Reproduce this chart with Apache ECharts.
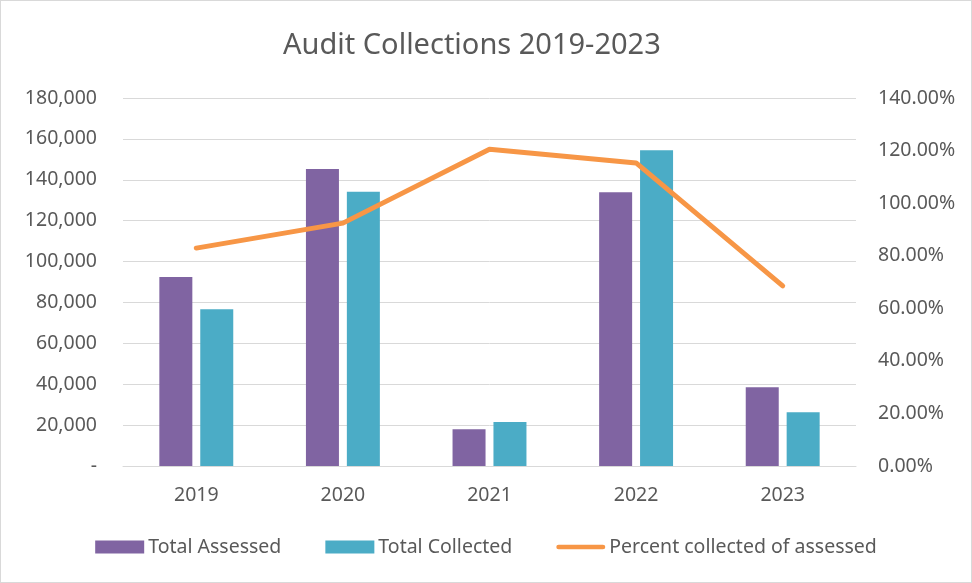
<!DOCTYPE html>
<html>
<head>
<meta charset="utf-8">
<script src="https://cdn.jsdelivr.net/npm/echarts@6/dist/echarts.min.js"></script>
<style>
  html, body { margin: 0; padding: 0; background: #fff; }
  #chart { width: 970px; height: 581px; border: 1px solid #d9d9d9; }
</style>
</head>
<body>
<div id="chart"></div>
<script>
  // 数据
  var years = ['2019', '2020', '2021', '2022', '2023'];
  var totalAssessed = [92500, 145300, 18000, 133900, 38500];
  var totalCollected = [76700, 134200, 21500, 154500, 26300];
  var percentCollected = [82.9, 92.4, 120.5, 115.3, 68.5];

  var font = "'Noto Sans', sans-serif";
  var textColor = '#595959';
  var gridColor = '#d9d9d9';
  // 图例中的粗线（圆头）
  var lineIcon = 'path://M2.5,0H50.5A2.5,2.5,0,0,1,50.5,5H2.5A2.5,2.5,0,0,1,2.5,0Z';

  var chart = echarts.init(document.getElementById('chart'));
  chart.setOption({
    animation: false,
    textStyle: { fontFamily: font },
    title: {
      text: 'Audit Collections 2019-2023',
      left: 277,
      top: 25,
      textStyle: { fontFamily: font, fontSize: 29, fontWeight: 'normal', color: textColor }
    },
    legend: {
      bottom: 20,
      left: 'center',
      itemWidth: 49,
      itemHeight: 13,
      itemGap: 44,
      textStyle: { fontFamily: font, fontSize: 19.5, color: textColor, padding: [0, 0, 0, -1] },
      data: [
        { name: 'Total Assessed', icon: 'rect' },
        { name: 'Total Collected', icon: 'rect' },
        { name: 'Percent collected of assessed', icon: lineIcon, itemStyle: { color: '#F79646' } }
      ]
    },
    grid: { left: 122, right: 115, top: 97, bottom: 116 },
    xAxis: {
      type: 'category',
      data: years,
      axisLine: { lineStyle: { color: gridColor, width: 1 } },
      axisTick: { show: false },
      axisLabel: { fontFamily: font, fontSize: 19.5, color: textColor, margin: 19 }
    },
    yAxis: [
      {
        type: 'value',
        min: 0,
        max: 180000,
        interval: 20000,
        axisLine: { show: false },
        axisTick: { show: false },
        splitLine: { lineStyle: { color: gridColor, width: 1 } },
        axisLabel: {
          fontFamily: font, fontSize: 19.5, color: textColor, margin: 26,
          formatter: function (v) { return v === 0 ? '-' : v.toLocaleString('en-US'); }
        }
      },
      {
        type: 'value',
        min: 0,
        max: 140,
        interval: 20,
        axisLine: { show: false },
        axisTick: { show: false },
        splitLine: { show: false },
        axisLabel: {
          fontFamily: font, fontSize: 19.5, color: textColor, margin: 22,
          formatter: function (v) { return v.toFixed(2) + '%'; }
        }
      }
    ],
    series: [
      {
        name: 'Total Assessed',
        type: 'bar',
        data: totalAssessed,
        barWidth: 33,
        barGap: '24%',
        itemStyle: { color: '#8064A2' }
      },
      {
        name: 'Total Collected',
        type: 'bar',
        data: totalCollected,
        barWidth: 33,
        itemStyle: { color: '#4BACC6' }
      },
      {
        name: 'Percent collected of assessed',
        type: 'line',
        yAxisIndex: 1,
        data: percentCollected,
        symbol: 'none',
        lineStyle: { color: '#F79646', width: 5, cap: 'round', join: 'round' },
        itemStyle: { color: '#F79646' }
      }
    ]
  });
</script>
</body>
</html>
